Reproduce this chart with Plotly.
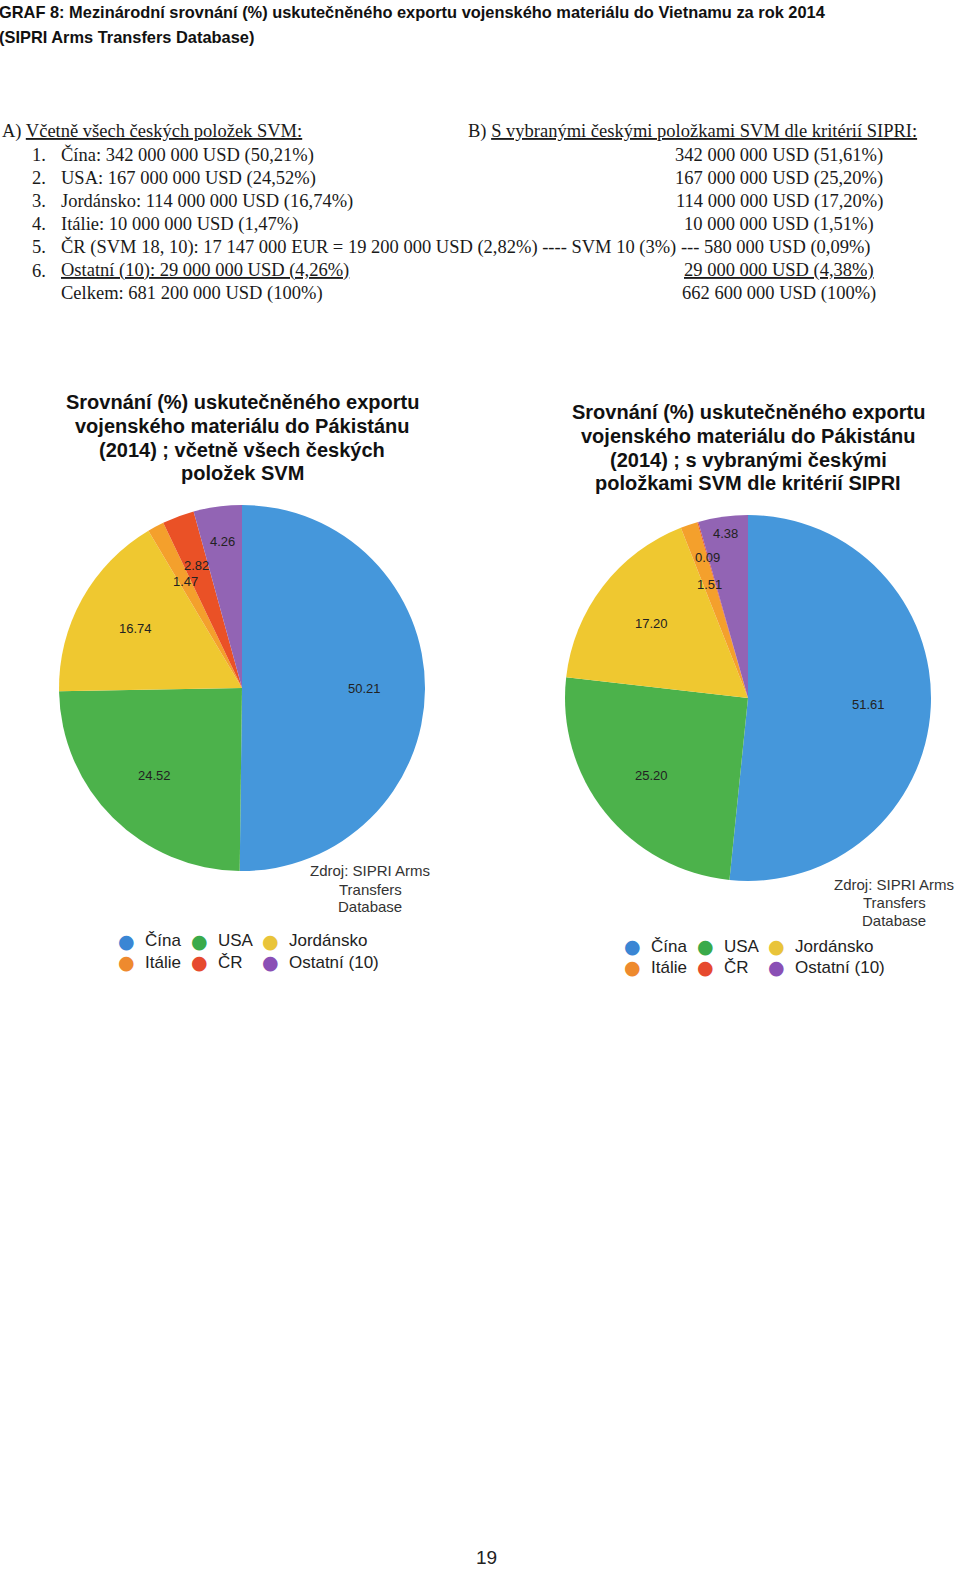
import math
import plotly.graph_objects as go

W, H = 960, 1571

# data
countries = ["Čína", "USA", "Jordánsko", "Itálie", "ČR", "Ostatní (10)"]
share_all = [50.21, 24.52, 16.74, 1.47, 2.82, 4.26]
share_sipri = [51.61, 25.20, 17.20, 1.51, 0.09, 4.38]
text_all = ["50.21", "24.52", "16.74", "1.47", "2.82", "4.26"]
text_sipri = ["51.61", "25.20", "17.20", "1.51", "0.09", "4.38"]

page_title = [
    "GRAF 8: Mezinárodní srovnání (%) uskutečněného exportu vojenského materiálu do Vietnamu za rok 2014",
    "(SIPRI Arms Transfers Database)",
]
head_a = ("A) ", "Včetně všech českých položek SVM:")
head_b = ("B) ", "S vybranými českými položkami SVM dle kritérií SIPRI:")
list_numbers = ["1.", "2.", "3.", "4.", "5.", "6.", ""]
list_a = [
    "Čína: 342 000 000 USD (50,21%)",
    "USA: 167 000 000 USD (24,52%)",
    "Jordánsko: 114 000 000 USD (16,74%)",
    "Itálie: 10 000 000 USD (1,47%)",
    "ČR (SVM 18, 10): 17 147 000 EUR = 19 200 000 USD (2,82%) ---- SVM 10 (3%) --- 580 000 USD (0,09%)",
    "Ostatní (10): 29 000 000 USD (4,26%)",
    "Celkem: 681 200 000 USD (100%)",
]
list_b = [
    "342 000 000 USD (51,61%)",
    "167 000 000 USD (25,20%)",
    "114 000 000 USD (17,20%)",
    "10 000 000 USD (1,51%)",
    "",
    "29 000 000 USD (4,38%)",
    "662 600 000 USD (100%)",
]
underlined_rows = [5]
chart_titles = [
    ["Srovnání (%) uskutečněného exportu", "vojenského materiálu do Pákistánu",
     "(2014) ; včetně všech českých", "položek SVM"],
    ["Srovnání (%) uskutečněného exportu", "vojenského materiálu do Pákistánu",
     "(2014) ; s vybranými českými", "položkami SVM dle kritérií SIPRI"],
]
source_lines = ["Zdroj: SIPRI Arms", "Transfers", "Database"]
page_number = "19"

# styles
slice_colors = ["#4597db", "#4cb24b", "#efc830", "#f4a02c", "#ea5126", "#9264b4"]
dot_colors = ["#3a86d4", "#3aaa4a", "#e9c43a", "#ee8a2e", "#e64a2e", "#8a4fb5"]
label_radius = [
    [0.667, 0.677, 0.667, 0.66, 0.716, 0.81],
    [0.66, 0.677, 0.667, 0.655, 0.80, 0.905],
]
charts = [
    dict(cx=242, cy=688, r=183, title_y=[402, 426, 450, 473],
         src_x=370, src_y=[870, 889, 907], leg_y=[941, 962]),
    dict(cx=748, cy=698, r=183, title_y=[412, 436, 460, 483],
         src_x=894, src_y=[884, 902, 920], leg_y=[946, 967]),
]
legend_dx = [-116, -43, 28]
sans = "Liberation Sans, Arial, sans-serif"
serif = "Liberation Serif, Times New Roman, serif"

annotations = []


def note(text, x, y, size, family, xanchor="left", color="#1a1a1a", weight="normal"):
    annotations.append(dict(
        text=text, x=x / W, y=1 - y / H, xref="paper", yref="paper",
        xanchor=xanchor, yanchor="middle", showarrow=False,
        font=dict(family=family, size=size, color=color, weight=weight),
    ))


def ul(s):
    return "<span style='text-decoration:underline'>" + s + "</span>"


# page heading
for i, line in enumerate(page_title):
    note(line, -3, 12 + 25 * i, 16.4, sans, weight="bold", color="#111")

# text list
row_y = [132 + 23.1 * i for i in range(8)]
note(head_a[0] + ul(head_a[1]), 0, row_y[0], 18.5, serif)
note(head_b[0] + ul(head_b[1]), 466, row_y[0], 18.5, serif)
for i, (num, a, b) in enumerate(zip(list_numbers, list_a, list_b)):
    y = row_y[i + 1]
    if num:
        note(num, 30, y, 18.5, serif)
    note(ul(a) if i in underlined_rows else a, 59, y, 18.5, serif)
    if b:
        note(ul(b) if i in underlined_rows else b, 779, y, 18.5, serif, xanchor="center")

fig = go.Figure()
for k, (shares, texts) in enumerate([(share_all, text_all), (share_sipri, text_sipri)]):
    c = charts[k]
    fig.add_trace(go.Pie(
        labels=countries, values=shares, sort=False, direction="clockwise",
        rotation=0, textposition="none", showlegend=False,
        marker=dict(colors=slice_colors, line=dict(width=0)),
        domain=dict(x=[(c["cx"] - c["r"]) / W, (c["cx"] + c["r"]) / W],
                    y=[1 - (c["cy"] + c["r"]) / H, 1 - (c["cy"] - c["r"]) / H]),
    ))
    total = sum(shares)
    cum = 0
    for i, (v, t) in enumerate(zip(shares, texts)):
        th = 2 * math.pi * (cum + v / 2) / total
        cum += v
        d = label_radius[k][i] * c["r"]
        note(t, c["cx"] + d * math.sin(th), c["cy"] - d * math.cos(th), 13, sans,
             xanchor="center", color="#222")
    for line, y in zip(chart_titles[k], c["title_y"]):
        note(line, c["cx"], y, 20, sans, xanchor="center", color="#111", weight="bold")
    for line, y in zip(source_lines, c["src_y"]):
        note(line, c["src_x"], y, 15, sans, xanchor="center", color="#333")
    for i, name in enumerate(countries):
        x = c["cx"] + legend_dx[i % 3]
        y = c["leg_y"][i // 3]
        note("●", x, y, 19, "DejaVu Sans", xanchor="center", color=dot_colors[i])
        note(name, x + 17, y, 17, sans, color="#222")

note(page_number, 486, 1557, 19, sans, xanchor="center", color="#222")

fig.update_layout(
    width=W, height=H, margin=dict(l=0, r=0, t=0, b=0),
    paper_bgcolor="white", plot_bgcolor="white",
    annotations=annotations,
)
fig.write_html("out.html", config={"displayModeBar": False},
               post_script="document.body.style.margin='0';")
